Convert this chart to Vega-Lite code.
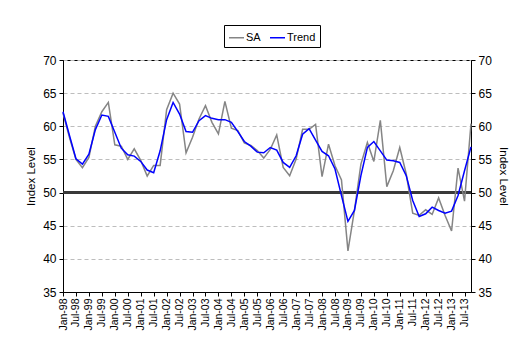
{
  "$schema": "https://vega.github.io/schema/vega-lite/v6.json",
  "width": 408,
  "height": 232,
  "autosize": {"type": "none"},
  "padding": {"left": 63, "top": 60, "right": 60, "bottom": 70},
  "background": "white",
  "config": {
    "font": "Liberation Sans",
    "view": {"stroke": "black", "strokeWidth": 1},
    "axis": {
      "domainColor": "black",
      "tickColor": "black",
      "labelColor": "black",
      "titleColor": "black",
      "labelFont": "Liberation Sans",
      "titleFont": "Liberation Sans"
    }
  },
  "data": {
    "values": [
      {"q": "Jan-98", "SA": 62.0, "Trend": 62.2},
      {"q": "Apr-98", "SA": 58.3, "Trend": 58.6},
      {"q": "Jul-98", "SA": 55.0, "Trend": 55.1},
      {"q": "Oct-98", "SA": 53.75, "Trend": 54.3},
      {"q": "Jan-99", "SA": 55.3, "Trend": 55.8},
      {"q": "Apr-99", "SA": 60.0, "Trend": 59.5},
      {"q": "Jul-99", "SA": 62.2, "Trend": 61.7},
      {"q": "Oct-99", "SA": 63.6, "Trend": 61.5},
      {"q": "Jan-00", "SA": 57.2, "Trend": 59.1},
      {"q": "Apr-00", "SA": 57.0, "Trend": 56.7},
      {"q": "Jul-00", "SA": 55.0, "Trend": 55.7},
      {"q": "Oct-00", "SA": 56.6, "Trend": 55.5},
      {"q": "Jan-01", "SA": 54.85, "Trend": 54.7},
      {"q": "Apr-01", "SA": 52.5, "Trend": 53.4},
      {"q": "Jul-01", "SA": 54.1, "Trend": 53.0},
      {"q": "Oct-01", "SA": 54.1, "Trend": 56.3},
      {"q": "Jan-02", "SA": 62.5, "Trend": 61.0},
      {"q": "Apr-02", "SA": 65.0, "Trend": 63.6},
      {"q": "Jul-02", "SA": 63.35, "Trend": 61.85},
      {"q": "Oct-02", "SA": 56.0, "Trend": 59.2},
      {"q": "Jan-03", "SA": 58.35, "Trend": 59.1},
      {"q": "Apr-03", "SA": 61.1, "Trend": 60.85},
      {"q": "Jul-03", "SA": 63.1, "Trend": 61.6},
      {"q": "Oct-03", "SA": 60.6, "Trend": 61.2},
      {"q": "Jan-04", "SA": 58.85, "Trend": 61.0},
      {"q": "Apr-04", "SA": 63.75, "Trend": 61.0},
      {"q": "Jul-04", "SA": 59.7, "Trend": 60.6},
      {"q": "Oct-04", "SA": 59.35, "Trend": 59.2},
      {"q": "Jan-05", "SA": 57.5, "Trend": 57.7},
      {"q": "Apr-05", "SA": 57.1, "Trend": 57.0},
      {"q": "Jul-05", "SA": 56.35, "Trend": 56.1},
      {"q": "Oct-05", "SA": 55.2, "Trend": 56.0},
      {"q": "Jan-06", "SA": 56.5, "Trend": 56.8},
      {"q": "Apr-06", "SA": 58.7, "Trend": 56.4},
      {"q": "Jul-06", "SA": 53.8, "Trend": 54.55},
      {"q": "Oct-06", "SA": 52.55, "Trend": 53.8},
      {"q": "Jan-07", "SA": 55.05, "Trend": 55.55},
      {"q": "Apr-07", "SA": 59.55, "Trend": 58.8},
      {"q": "Jul-07", "SA": 59.55, "Trend": 59.65},
      {"q": "Oct-07", "SA": 60.3, "Trend": 57.9},
      {"q": "Jan-08", "SA": 52.4, "Trend": 56.2},
      {"q": "Apr-08", "SA": 57.3, "Trend": 55.55},
      {"q": "Jul-08", "SA": 54.05, "Trend": 53.55},
      {"q": "Oct-08", "SA": 51.9, "Trend": 49.55},
      {"q": "Jan-09", "SA": 41.2, "Trend": 45.65},
      {"q": "Apr-09", "SA": 47.3, "Trend": 47.3},
      {"q": "Jul-09", "SA": 54.3, "Trend": 52.55},
      {"q": "Oct-09", "SA": 57.55, "Trend": 56.8},
      {"q": "Jan-10", "SA": 54.7, "Trend": 57.7},
      {"q": "Apr-10", "SA": 60.9, "Trend": 56.3},
      {"q": "Jul-10", "SA": 50.9, "Trend": 54.9},
      {"q": "Oct-10", "SA": 53.3, "Trend": 54.8},
      {"q": "Jan-11", "SA": 56.8, "Trend": 54.55},
      {"q": "Apr-11", "SA": 52.8, "Trend": 52.55},
      {"q": "Jul-11", "SA": 46.9, "Trend": 48.8},
      {"q": "Oct-11", "SA": 46.55, "Trend": 46.4},
      {"q": "Jan-12", "SA": 47.4, "Trend": 46.8},
      {"q": "Apr-12", "SA": 46.7, "Trend": 47.8},
      {"q": "Jul-12", "SA": 49.2, "Trend": 47.3},
      {"q": "Oct-12", "SA": 46.55, "Trend": 46.9},
      {"q": "Jan-13", "SA": 44.2, "Trend": 47.2},
      {"q": "Apr-13", "SA": 53.7, "Trend": 49.55},
      {"q": "Jul-13", "SA": 48.7, "Trend": 53.3},
      {"q": "Oct-13", "SA": 60.4, "Trend": 56.9}
    ]
  },
  "layer": [
    {
      "mark": {"type": "rule", "color": "#3a3a3a", "strokeWidth": 1.6},
      "encoding": {
        "y": {"datum": 50, "type": "quantitative", "scale": {"domain": [35, 70], "nice": false, "zero": false}, "axis": null}
      }
    },
    {
      "mark": {"type": "line", "strokeWidth": 1.5},
      "encoding": {
        "x": {
          "field": "q", "type": "ordinal", "sort": null,
          "scale": {"type": "point", "padding": 0},
          "axis": {
            "title": null,
            "values": ["Jan-98","Jul-98","Jan-99","Jul-99","Jan-00","Jul-00","Jan-01","Jul-01","Jan-02","Jul-02","Jan-03","Jul-03","Jan-04","Jul-04","Jan-05","Jul-05","Jan-06","Jul-06","Jan-07","Jul-07","Jan-08","Jul-08","Jan-09","Jul-09","Jan-10","Jul-10","Jan-11","Jul-11","Jan-12","Jul-12","Jan-13","Jul-13"],
            "labelAngle": 270,
            "labelAlign": "right",
            "labelBaseline": "middle",
            "labelFontSize": 10.5,
            "labelPadding": 2,
            "tickSize": 4,
            "grid": false,
            "labelOverlap": false
          }
        },
        "y": {
          "field": "SA", "type": "quantitative",
          "scale": {"domain": [35, 70], "nice": false, "zero": false},
          "axis": {
            "orient": "left",
            "title": "Index Level",
            "titleFontSize": 11.5,
            "titleFontWeight": "normal",
            "titlePadding": 6,
            "values": [35, 40, 45, 50, 55, 60, 65, 70],
            "labelFontSize": 12,
            "labelPadding": 3,
            "tickSize": 4,
            "grid": true,
            "gridColor": "#bdbdbd",
            "gridDash": [4, 3],
            "gridWidth": 1
          }
        },
        "color": {
          "datum": "SA",
          "scale": {"domain": ["SA", "Trend"], "range": ["#858585", "#0000ff"]},
          "legend": {
            "title": null,
            "orient": "none",
            "direction": "horizontal",
            "legendX": 161,
            "legendY": -35,
            "strokeColor": "black",
            "padding": 4,
            "symbolType": "stroke",
            "symbolSize": 225,
            "symbolStrokeWidth": 1.5,
            "labelFontSize": 11,
            "labelOffset": 1,
            "columnPadding": 6,
            "labelFont": "Liberation Sans",
            "labelColor": "black",
            "fillColor": "white"
          }
        }
      }
    },
    {
      "mark": {"type": "line", "strokeWidth": 1.5},
      "encoding": {
        "x": {"field": "q", "type": "ordinal", "sort": null, "scale": {"type": "point", "padding": 0}},
        "y": {
          "field": "Trend", "type": "quantitative",
          "scale": {"domain": [35, 70], "nice": false, "zero": false},
          "axis": {
            "orient": "right",
            "title": "Index Level",
            "titleFontSize": 11.5,
            "titleFontWeight": "normal",
            "titlePadding": 6,
            "values": [35, 40, 45, 50, 55, 60, 65, 70],
            "labelFontSize": 12,
            "labelPadding": 3,
            "tickSize": 4,
            "grid": false
          }
        },
        "color": {"datum": "Trend"}
      }
    }
  ],
  "resolve": {"axis": {"y": "independent"}}
}
